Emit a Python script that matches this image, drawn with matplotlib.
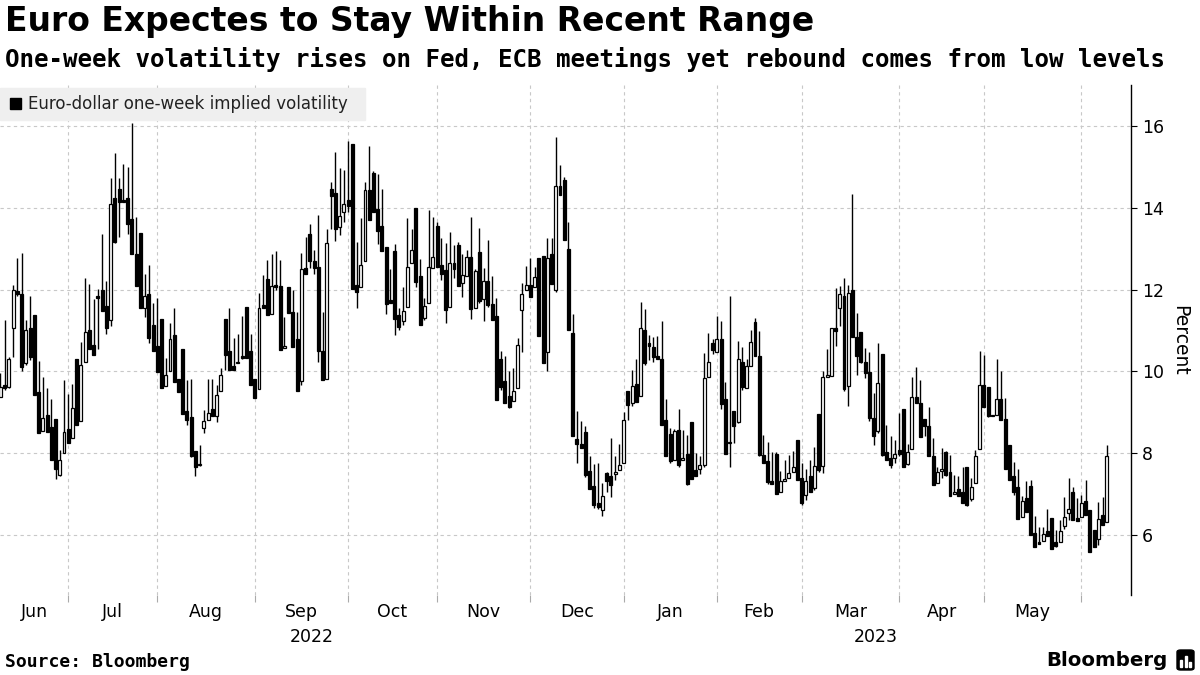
import matplotlib
matplotlib.use("Agg")
import matplotlib.pyplot as plt
import matplotlib.transforms as mtransforms
from matplotlib.patches import Rectangle, FancyBboxPatch
import numpy as np
import pandas as pd

# daily candles, one per weekday from 2022-06-09 to 2023-06-09
opens = [9.37, 9.66, 9.62, 11.07, 11.96, 11.9, 10.2, 11.05, 11.37, 9.5,
         8.54, 8.92, 8.64, 8.84, 7.47, 8.0, 8.6, 8.38, 10.3, 8.78,
         10.24, 11.02, 10.64, 11.82, 11.98, 11.6, 11.25, 14.23, 14.45, 14.2,
         14.25, 13.72, 12.86, 13.37, 11.56, 11.89, 11.14, 10.61, 11.27, 9.64,
         10.0, 10.88, 9.82, 10.55, 9.04, 8.88, 8.04, 7.7, 8.61, 8.82,
         9.07, 8.9, 9.51, 11.27, 10.49, 10.12, 10.2, 10.35, 11.58, 10.49,
         9.8, 9.56, 11.62, 12.25, 11.41, 12.1, 12.08, 10.58, 12.06, 11.45,
         10.8, 9.76, 12.53, 13.35, 12.7, 12.54, 10.5, 9.8, 14.47, 14.35,
         13.52, 13.9, 14.19, 15.56, 12.12, 12.06, 12.7, 14.43, 14.86, 13.97,
         13.56, 13.03, 11.74, 12.95, 11.38, 11.22, 11.57, 12.64, 14.0, 12.33,
         11.31, 11.66, 12.53, 13.55, 12.6, 12.47, 11.58, 12.64, 13.1, 12.15,
         12.33, 12.8, 11.55, 12.91, 11.76, 12.2, 11.64, 11.35, 10.3, 9.76,
         9.39, 9.27, 9.59, 11.5, 11.98, 12.1, 12.05, 12.76, 12.82, 10.48,
         12.86, 12.0, 14.53, 14.69, 12.98, 10.94, 8.35, 8.23, 8.51, 7.57,
         7.2, 6.78, 6.61, 7.51, 7.45, 7.5, 7.59, 7.76, 9.53, 9.22,
         9.69, 9.39, 11.02, 10.69, 10.6, 10.37, 10.31, 8.82, 8.47, 7.82,
         8.57, 7.84, 7.98, 8.75, 7.59, 7.62, 7.71, 9.86, 10.69, 10.47,
         10.79, 9.32, 8.24, 9.04, 8.75, 10.24, 9.6, 10.14, 11.2, 10.38,
         7.96, 7.8, 7.33, 7.98, 7.04, 7.33, 7.39, 7.55, 8.31, 7.39,
         6.98, 7.45, 7.14, 8.96, 7.69, 9.85, 9.88, 11.06, 11.55, 11.85,
         9.63, 12.0, 10.84, 10.96, 10.23, 9.98, 8.86, 8.53, 10.43, 8.02,
         7.88, 7.88, 8.08, 9.09, 7.74, 8.1, 9.37, 9.22, 8.84, 8.67,
         7.93, 7.27, 7.57, 8.02, 7.53, 6.99, 7.12, 7.04, 7.66, 6.87,
         7.28, 8.1, 9.67, 9.62, 8.94, 8.94, 9.32, 8.83, 8.21, 7.43,
         7.16, 6.43, 6.89, 7.19, 6.04, 5.81, 5.86, 6.1, 6.41, 5.82,
         5.82, 6.22, 6.53, 7.05, 6.41, 6.43, 6.84, 6.61, 6.12, 5.89,
         6.49, 6.31]
highs = [9.95, 11.25, 10.35, 12.1, 12.76, 12.9, 11.25, 11.85, 11.37, 10.25,
         9.86, 9.6, 9.33, 8.84, 8.07, 9.78, 9.45, 9.7, 10.3, 10.72,
         12.27, 12.13, 11.78, 12.02, 13.35, 12.2, 14.73, 15.33, 14.73, 15.08,
         15.0, 16.06, 13.78, 13.37, 12.39, 12.6, 11.68, 11.8, 11.27, 10.33,
         11.19, 11.56, 9.82, 10.55, 9.78, 9.82, 8.04, 8.2, 9.05, 9.82,
         9.8, 9.67, 10.07, 11.27, 11.56, 10.82, 10.92, 11.35, 11.58, 10.92,
         9.8, 11.92, 12.35, 12.72, 12.86, 12.94, 12.72, 11.33, 12.06, 12.0,
         11.45, 12.9, 13.29, 13.6, 12.96, 13.82, 11.45, 13.47, 14.64, 15.37,
         14.96, 14.92, 15.62, 15.56, 13.15, 13.74, 14.64, 15.52, 14.9, 14.82,
         14.47, 13.03, 12.5, 13.11, 11.55, 12.06, 13.74, 13.49, 14.0, 12.74,
         11.8, 13.94, 13.78, 13.66, 13.25, 13.13, 13.41, 13.09, 13.17, 12.86,
         12.96, 13.78, 12.51, 13.5, 12.53, 13.2, 12.33, 11.8, 10.49, 10.38,
         10.0, 10.08, 10.82, 12.17, 12.58, 12.78, 12.55, 12.76, 12.82, 13.25,
         13.25, 15.73, 15.04, 14.75, 13.65, 11.39, 9.04, 8.78, 8.67, 7.92,
         7.73, 7.76, 7.27, 7.55, 8.37, 7.93, 8.23, 9.0, 9.53, 10.02,
         10.29, 11.69, 11.53, 10.9, 10.84, 10.87, 11.24, 9.32, 8.61, 8.58,
         9.08, 8.57, 8.45, 8.75, 8.0, 7.93, 10.45, 10.94, 10.79, 11.35,
         11.24, 9.73, 11.85, 9.04, 10.73, 10.6, 10.29, 11.0, 11.31, 10.98,
         8.45, 8.27, 8.02, 8.02, 7.57, 7.82, 7.96, 8.04, 8.31, 7.76,
         7.61, 7.82, 8.16, 8.96, 10.0, 10.55, 11.06, 12.04, 12.08, 12.29,
         12.12, 14.34, 11.43, 10.96, 10.57, 10.47, 9.47, 10.69, 10.43, 8.69,
         8.42, 8.33, 8.98, 9.09, 8.23, 9.86, 10.1, 9.78, 8.84, 9.13,
         8.37, 7.67, 8.12, 8.04, 7.96, 7.47, 7.43, 7.67, 7.66, 7.39,
         8.08, 10.49, 10.41, 9.62, 8.94, 10.29, 10.0, 9.34, 8.21, 7.78,
         7.61, 6.94, 7.31, 7.35, 6.45, 6.19, 6.19, 6.63, 6.41, 6.12,
         6.37, 6.93, 7.39, 7.17, 6.9, 6.98, 7.35, 6.61, 6.12, 6.8,
         6.93, 8.21]
lows = [9.37, 9.55, 9.6, 10.35, 11.85, 10.0, 10.15, 10.27, 9.43, 8.48,
        8.54, 8.51, 7.82, 7.37, 7.45, 8.0, 8.25, 8.38, 8.68, 8.78,
        10.24, 10.55, 10.41, 10.55, 11.48, 10.92, 11.1, 13.13, 13.29, 14.15,
        13.35, 12.86, 12.09, 11.55, 11.33, 10.7, 10.5, 9.98, 9.58, 9.64,
        10.0, 9.74, 9.49, 8.96, 8.68, 7.9, 7.45, 7.68, 8.5, 8.82,
        8.9, 8.76, 9.51, 10.02, 10.02, 10.02, 10.2, 10.3, 10.33, 9.66,
        9.35, 9.56, 11.56, 11.37, 11.41, 12.0, 10.51, 10.58, 11.43, 10.6,
        9.53, 9.66, 12.37, 12.53, 12.37, 10.24, 9.78, 9.8, 13.49, 13.19,
        13.33, 13.66, 13.9, 12.02, 11.55, 12.06, 12.7, 13.7, 13.9, 13.11,
        12.95, 11.41, 11.68, 10.88, 11.0, 11.14, 11.57, 12.64, 12.07, 11.13,
        11.25, 11.66, 12.53, 12.54, 12.23, 11.17, 11.58, 12.27, 12.08, 11.82,
        12.33, 11.29, 11.55, 11.66, 11.24, 11.57, 11.25, 9.29, 9.54, 9.23,
        9.1, 9.27, 9.59, 10.47, 11.98, 11.82, 12.05, 10.86, 10.2, 10.0,
        12.14, 11.93, 14.3, 13.2, 11.0, 8.41, 7.76, 8.12, 7.41, 7.13,
        6.65, 6.63, 6.46, 7.04, 6.92, 7.35, 7.59, 7.76, 8.8, 9.14,
        9.25, 9.39, 10.16, 10.27, 10.24, 10.31, 8.69, 7.92, 7.76, 7.82,
        7.67, 7.84, 7.22, 7.36, 7.43, 7.5, 7.67, 9.86, 10.43, 10.47,
        9.07, 7.98, 7.65, 8.24, 8.73, 9.55, 9.6, 10.14, 10.38, 7.92,
        7.76, 7.24, 7.24, 7.0, 7.04, 7.33, 7.39, 7.55, 7.35, 6.73,
        6.86, 7.04, 7.1, 7.55, 7.51, 9.85, 9.88, 10.61, 11.12, 9.51,
        9.14, 10.83, 9.9, 10.2, 9.84, 8.78, 8.2, 8.49, 7.93, 7.84,
        7.63, 7.76, 7.92, 7.67, 7.71, 8.1, 9.22, 8.39, 8.42, 7.93,
        7.22, 7.27, 7.39, 7.44, 6.94, 6.99, 6.94, 6.78, 6.71, 6.82,
        7.28, 8.1, 9.13, 8.88, 8.9, 8.94, 8.81, 7.61, 7.35, 6.98,
        6.39, 6.43, 6.57, 6.0, 5.71, 5.78, 5.86, 5.98, 5.65, 5.7,
        5.82, 6.14, 6.37, 6.37, 6.35, 6.43, 6.48, 5.57, 5.7, 5.75,
        6.23, 6.31]
closes = [9.62, 9.58, 10.3, 12.0, 11.9, 10.1, 11.0, 10.35, 9.43, 8.48,
          8.86, 8.51, 7.82, 7.62, 7.84, 8.51, 8.25, 9.1, 8.68, 10.16,
          10.96, 10.55, 10.41, 11.8, 11.48, 11.07, 14.1, 13.17, 14.13, 14.15,
          13.6, 12.86, 12.09, 11.55, 11.84, 10.82, 10.5, 9.98, 9.58, 9.92,
          10.8, 9.74, 9.49, 8.96, 8.82, 7.94, 7.66, 7.72, 8.78, 8.99,
          8.9, 9.43, 9.9, 10.41, 10.02, 10.02, 10.24, 10.33, 10.33, 9.66,
          9.35, 11.56, 11.56, 11.37, 12.08, 12.05, 10.51, 10.62, 11.43, 10.6,
          9.53, 12.5, 12.37, 12.7, 12.53, 10.5, 9.78, 13.13, 14.29, 13.48,
          13.8, 14.1, 14.05, 12.02, 11.94, 12.6, 14.43, 13.7, 13.9, 13.44,
          12.95, 11.64, 11.68, 11.29, 11.09, 11.47, 12.56, 12.96, 12.19, 11.14,
          11.59, 12.56, 12.8, 12.54, 12.39, 11.51, 12.64, 12.49, 12.08, 12.35,
          12.8, 11.52, 12.45, 11.72, 12.2, 11.61, 11.25, 9.29, 9.62, 9.23,
          9.13, 9.51, 10.64, 11.88, 12.1, 11.82, 12.3, 10.86, 10.2, 12.76,
          12.14, 14.53, 14.3, 13.2, 11.0, 8.41, 8.23, 8.12, 7.47, 7.13,
          6.72, 6.68, 6.96, 7.33, 7.22, 7.51, 7.71, 8.82, 9.17, 9.63,
          9.25, 11.06, 10.2, 10.61, 10.35, 10.31, 8.69, 7.92, 7.8, 8.55,
          7.71, 7.84, 7.24, 7.36, 7.43, 7.71, 9.84, 10.22, 10.51, 10.79,
          9.2, 7.98, 8.26, 8.67, 10.3, 9.62, 10.14, 10.71, 10.38, 7.96,
          7.76, 7.29, 7.24, 7.0, 7.31, 7.35, 7.51, 7.67, 7.35, 6.78,
          7.32, 7.04, 7.69, 7.58, 9.85, 9.9, 11.06, 10.98, 11.89, 9.57,
          11.92, 10.83, 10.37, 10.22, 9.96, 8.86, 8.42, 9.71, 7.96, 7.84,
          7.71, 7.98, 7.98, 7.67, 8.02, 9.37, 9.22, 8.39, 8.67, 7.93,
          7.22, 7.55, 7.58, 7.47, 6.94, 7.04, 6.94, 6.78, 6.73, 7.17,
          7.93, 9.67, 9.13, 8.91, 8.9, 9.33, 8.81, 7.61, 7.35, 7.04,
          6.39, 6.82, 6.57, 6.0, 5.71, 5.78, 6.02, 5.98, 5.65, 5.74,
          6.1, 6.43, 6.63, 6.37, 6.35, 6.78, 6.48, 5.57, 5.7, 6.39,
          6.23, 7.94]

month_labels = ["Jun", "Jul", "Aug", "Sep", "Oct", "Nov", "Dec",
                "Jan", "Feb", "Mar", "Apr", "May"]
year_labels = ["2022", "2023"]
y_ticks = [6, 8, 10, 12, 14, 16]

dates = pd.bdate_range("2022-06-09", periods=len(closes))
o = np.array(opens)
h = np.array(highs)
l = np.array(lows)
c = np.array(closes)
x = np.arange(len(c))

fig = plt.figure(figsize=(12, 6.75), dpi=100)
ax = fig.add_axes([0.0, 0.1185, 0.9425, 0.7555])

xmin, xmax = -0.1, 266.7
ax.set_xlim(xmin, xmax)
ax.set_ylim(4.53, 17.0)

# month boundaries = first trading day of each month
month_key = dates.year * 12 + dates.month
starts = [i for i in range(1, len(dates)) if month_key[i] != month_key[i - 1]]
edges = [xmin] + starts
centers = [(edges[k] + edges[k + 1]) / 2 for k in range(len(month_labels))]

grid_kw = dict(color="#c8c8c8", lw=0.8, ls=(0, (3, 3)), zorder=0)
for yv in y_ticks:
    ax.axhline(yv, **grid_kw)
for s in starts:
    ax.axvline(s, **grid_kw)

# candles
up = c >= o
ax.vlines(x, l, h, color="black", lw=1.0, zorder=2)
bottoms = np.minimum(o, c)
heights = np.maximum(np.abs(c - o), 0.04)
ax.bar(x[up], heights[up], bottom=bottoms[up], width=0.7,
       color="white", edgecolor="black", lw=0.9, zorder=3)
ax.bar(x[~up], heights[~up], bottom=bottoms[~up], width=0.7,
       color="black", edgecolor="black", lw=0.9, zorder=3)

for sp in ["left", "top", "bottom"]:
    ax.spines[sp].set_visible(False)
ax.spines["right"].set_color("black")
ax.spines["right"].set_linewidth(1.0)

ax.yaxis.tick_right()
ax.set_yticks(y_ticks)
ax.tick_params(axis="y", labelsize=12.5, length=4, width=0.8, pad=4, colors="black")
ax.yaxis.set_label_position("right")
ax.set_ylabel("Percent", rotation=270, fontsize=13.5, labelpad=18)

ax.set_xticks(centers)
ax.set_xticklabels(month_labels, fontsize=12.5)
ax.set_xticks(starts, minor=True)
ax.tick_params(axis="x", which="major", length=0, pad=6)
ax.tick_params(axis="x", which="minor", length=5, width=0.8, color="#aaaaaa")

trans = mtransforms.blended_transform_factory(ax.transData, ax.transAxes)
ax.text(centers[3] + 2.5, -0.064, year_labels[0], transform=trans,
        ha="center", va="top", fontsize=12.5)
ax.text(centers[9] + 6, -0.064, year_labels[1], transform=trans,
        ha="center", va="top", fontsize=12.5)

# legend box
fig.patches.append(Rectangle((0, 1 - 120 / 675), 365 / 1200, 32 / 675,
                             transform=fig.transFigure, color="#efefef", zorder=0))
fig.patches.append(Rectangle((10 / 1200, 1 - 109 / 675), 11 / 1200, 11 / 675,
                             transform=fig.transFigure, color="black"))
fig.text(28 / 1200, 1 - 104 / 675, "Euro-dollar one-week implied volatility",
         fontsize=12, va="center", ha="left", color="#222222")

fig.text(5 / 1200, 1 - 22 / 675, "Euro Expectes to Stay Within Recent Range",
         fontsize=23.8, fontweight="bold", va="center", ha="left")
fig.text(5 / 1200, 1 - 60 / 675,
         "One-week volatility rises on Fed, ECB meetings yet rebound comes from low levels",
         fontsize=17.4, fontweight="bold", family="DejaVu Sans Mono", va="center", ha="left")
fig.text(5 / 1200, 1 - 662 / 675, "Source: Bloomberg",
         fontsize=13, fontweight="bold", family="DejaVu Sans Mono", va="center", ha="left")
fig.text(1168 / 1200, 1 - 660 / 675, "Bloomberg",
         fontsize=14.2, fontweight="bold", va="center", ha="right")

# small logo square
fig.patches.append(FancyBboxPatch((1177 / 1200, 1 - 670 / 675), 17 / 1200, 20 / 675,
                                  boxstyle="round,pad=0,rounding_size=0.003",
                                  transform=fig.transFigure, color="black"))
for k, bh in enumerate([7, 11, 5]):
    fig.patches.append(Rectangle(((1180 + k * 4.5) / 1200, 1 - 667 / 675), 2.2 / 1200, bh / 675,
                                 transform=fig.transFigure, color="white"))

fig.savefig("out.png", dpi=100)
